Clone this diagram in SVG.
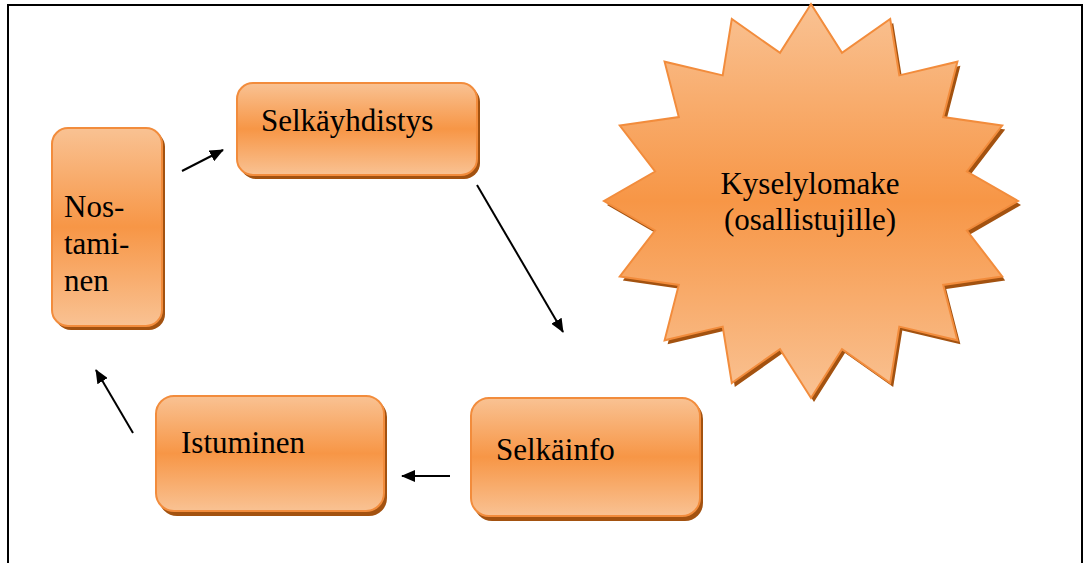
<svg xmlns="http://www.w3.org/2000/svg" width="1085" height="563" viewBox="0 0 1085 563">
<defs>
<linearGradient id="og" x1="0" y1="0" x2="0" y2="1">
<stop offset="0" stop-color="#f9c293"/>
<stop offset="0.5" stop-color="#f79646"/>
<stop offset="1" stop-color="#f9c293"/>
</linearGradient>
<marker id="ah" viewBox="0 0 14 12" refX="13" refY="6" markerWidth="14" markerHeight="12" markerUnits="userSpaceOnUse" orient="auto">
<path d="M0,0 L14,6 L0,12 z" fill="#000"/>
</marker>
</defs>
<style>
.shape{fill:url(#og);stroke:#f28c3c;stroke-width:2}
.shadow{fill:#a35210}
.lbl{font-family:'Times New Roman','Liberation Serif',serif;font-size:31px;fill:#000}
.conn{stroke:#000;stroke-width:2;fill:none;marker-end:url(#ah)}
</style>
<rect x="0" y="0" width="1085" height="563" fill="#fff"/>
<rect x="8" y="5" width="1074" height="580" fill="none" stroke="#000" stroke-width="2"/>

<g id="star">
<polygon class="shadow" transform="translate(3,4)" points="811,4 842,52.9 890.2,19 899.3,75.4 957.4,61.7 943.2,117.1 1002.2,125.6 966.9,171.5 1018,201 966.9,230.5 1002.2,276.4 943.2,284.9 957.4,340.3 899.3,326.6 890.2,383 842,349.1 811,398 780,349.1 731.8,383 722.7,326.6 664.6,340.3 678.8,284.9 619.8,276.4 655.1,230.5 604,201 655.1,171.5 619.8,125.6 678.8,117.1 664.6,61.7 722.7,75.4 731.8,19 780,52.9"/>
<polygon class="shape" points="811,4 842,52.9 890.2,19 899.3,75.4 957.4,61.7 943.2,117.1 1002.2,125.6 966.9,171.5 1018,201 966.9,230.5 1002.2,276.4 943.2,284.9 957.4,340.3 899.3,326.6 890.2,383 842,349.1 811,398 780,349.1 731.8,383 722.7,326.6 664.6,340.3 678.8,284.9 619.8,276.4 655.1,230.5 604,201 655.1,171.5 619.8,125.6 678.8,117.1 664.6,61.7 722.7,75.4 731.8,19 780,52.9"/>
<text class="lbl" x="810" y="194" text-anchor="middle">Kyselylomake</text>
<text class="lbl" x="810" y="230" text-anchor="middle">(osallistujille)</text>
</g>

<g id="nostaminen">
<rect class="shadow" x="55" y="131" width="110" height="199" rx="16"/>
<rect class="shape" x="52" y="128" width="110" height="198" rx="16"/>
<text class="lbl" x="64" y="217">Nos-</text>
<text class="lbl" x="64" y="254">tami-</text>
<text class="lbl" x="64" y="291">nen</text>
</g>

<g id="selkayhdistys">
<rect class="shadow" x="240" y="86" width="240" height="93" rx="16"/>
<rect class="shape" x="237" y="83" width="240" height="92" rx="16"/>
<text class="lbl" x="261" y="131">Selkäyhdistys</text>
</g>

<g id="selkainfo">
<rect class="shadow" x="474" y="401" width="229" height="120" rx="18"/>
<rect class="shape" x="471" y="398" width="229" height="118" rx="18"/>
<text class="lbl" x="496" y="460">Selkäinfo</text>
</g>

<g id="istuminen">
<rect class="shadow" x="159" y="399" width="228" height="117" rx="18"/>
<rect class="shape" x="156" y="396" width="228" height="115" rx="18"/>
<text class="lbl" x="181" y="453">Istuminen</text>
</g>

<g id="connectors">
<line class="conn" x1="182" y1="171" x2="223" y2="150"/>
<line class="conn" x1="477" y1="185" x2="563" y2="332"/>
<line class="conn" x1="450" y1="476" x2="402" y2="476"/>
<line class="conn" x1="133" y1="433" x2="96" y2="370"/>
</g>
</svg>
